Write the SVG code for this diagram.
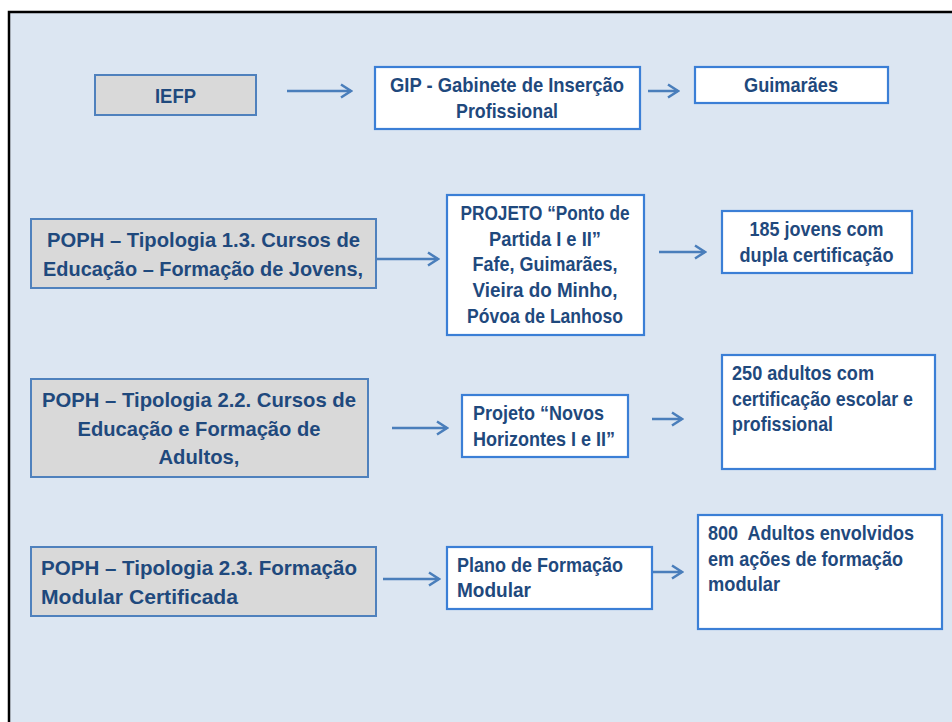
<svg xmlns="http://www.w3.org/2000/svg" width="952" height="722" viewBox="0 0 952 722">
<style>
.bg{fill:#dce6f2;stroke:#000;stroke-width:2.5}
.g{fill:#d9d9d9;stroke:#4f81bd;stroke-width:2}
.w{fill:#fff;stroke:#3b7fd6;stroke-width:2.2}
text{font-family:"Liberation Sans",Arial,sans-serif;font-weight:bold;font-size:21px;fill:#1f497d}
.c{text-anchor:middle}
.ar{fill:none;stroke:#4a7ebb;stroke-width:2.5}
</style>
<defs>
<marker id="ah" viewBox="0 0 14 16" refX="12" refY="8" markerWidth="14" markerHeight="16" markerUnits="userSpaceOnUse" orient="auto">
<path d="M2,1.5 L12,8 L2,14.5" fill="none" stroke="#4a7ebb" stroke-width="2.5"/>
</marker>
</defs>
<rect width="952" height="722" fill="#fff"/>
<rect class="bg" x="9" y="12" width="960" height="730"/>
<g id="connectors">
<line class="ar" x1="287" y1="91" x2="351" y2="91" marker-end="url(#ah)"/>
<line class="ar" x1="648" y1="91" x2="678" y2="91" marker-end="url(#ah)"/>
<line class="ar" x1="376" y1="259" x2="438" y2="259" marker-end="url(#ah)"/>
<line class="ar" x1="659" y1="252" x2="705" y2="252" marker-end="url(#ah)"/>
<line class="ar" x1="392" y1="428" x2="447" y2="428" marker-end="url(#ah)"/>
<line class="ar" x1="652" y1="419" x2="682" y2="419" marker-end="url(#ah)"/>
<line class="ar" x1="383" y1="579" x2="439" y2="579" marker-end="url(#ah)"/>
<line class="ar" x1="652" y1="572" x2="682" y2="572" marker-end="url(#ah)"/>
</g>
<g id="iefp">
<rect class="g" x="95" y="75" width="161" height="40"/>
<text class="c" x="175.5" y="103" textLength="41" lengthAdjust="spacingAndGlyphs">IEFP</text>
</g>
<g id="gip">
<rect class="w" x="375" y="67" width="265" height="62"/>
<text class="c" x="507" y="92" textLength="234" lengthAdjust="spacingAndGlyphs">GIP - Gabinete de Inserção</text>
<text class="c" x="507" y="118" textLength="102" lengthAdjust="spacingAndGlyphs">Profissional</text>
</g>
<g id="guimaraes">
<rect class="w" x="695" y="67" width="193" height="36"/>
<text class="c" x="791" y="92" textLength="94" lengthAdjust="spacingAndGlyphs">Guimarães</text>
</g>
<g id="poph13">
<rect class="g" x="31" y="219" width="345" height="69"/>
<text class="c" x="203.5" y="246.5" textLength="313" lengthAdjust="spacingAndGlyphs">POPH – Tipologia 1.3. Cursos de</text>
<text class="c" x="203" y="276" textLength="320" lengthAdjust="spacingAndGlyphs">Educação – Formação de Jovens,</text>
</g>
<g id="projeto">
<rect class="w" x="447" y="195" width="197" height="140"/>
<text class="c" x="545" y="220" textLength="169" lengthAdjust="spacingAndGlyphs">PROJETO “Ponto de</text>
<text class="c" x="545" y="246" textLength="112" lengthAdjust="spacingAndGlyphs">Partida I e II”</text>
<text class="c" x="545" y="271" textLength="145" lengthAdjust="spacingAndGlyphs">Fafe, Guimarães,</text>
<text class="c" x="545" y="297" textLength="145" lengthAdjust="spacingAndGlyphs">Vieira do Minho,</text>
<text class="c" x="545" y="322.5" textLength="156" lengthAdjust="spacingAndGlyphs">Póvoa de Lanhoso</text>
</g>
<g id="jovens">
<rect class="w" x="722" y="211" width="190" height="62"/>
<text class="c" x="816.5" y="236" textLength="134" lengthAdjust="spacingAndGlyphs">185 jovens com</text>
<text class="c" x="816.5" y="261.5" textLength="154" lengthAdjust="spacingAndGlyphs">dupla certificação</text>
</g>
<g id="poph22">
<rect class="g" x="31" y="379" width="337" height="98"/>
<text class="c" x="199" y="406.5" textLength="314" lengthAdjust="spacingAndGlyphs">POPH – Tipologia 2.2. Cursos de</text>
<text class="c" x="199" y="436" textLength="243" lengthAdjust="spacingAndGlyphs">Educação e Formação de</text>
<text class="c" x="199" y="464" textLength="81" lengthAdjust="spacingAndGlyphs">Adultos,</text>
</g>
<g id="novos">
<rect class="w" x="462" y="395" width="166" height="62"/>
<text x="473" y="420" textLength="131" lengthAdjust="spacingAndGlyphs">Projeto “Novos</text>
<text x="473" y="445.5" textLength="142" lengthAdjust="spacingAndGlyphs">Horizontes I e II”</text>
</g>
<g id="adultos250">
<rect class="w" x="722" y="355" width="213" height="114"/>
<text x="732" y="380" textLength="142" lengthAdjust="spacingAndGlyphs">250 adultos com</text>
<text x="732" y="406" textLength="181" lengthAdjust="spacingAndGlyphs">certificação escolar e</text>
<text x="732" y="430.5" textLength="101" lengthAdjust="spacingAndGlyphs">profissional</text>
</g>
<g id="poph23">
<rect class="g" x="31" y="547" width="345" height="69"/>
<text x="41" y="575" textLength="316" lengthAdjust="spacingAndGlyphs">POPH – Tipologia 2.3. Formação</text>
<text x="41" y="604" textLength="197" lengthAdjust="spacingAndGlyphs">Modular Certificada</text>
</g>
<g id="plano">
<rect class="w" x="447" y="547" width="205" height="62"/>
<text x="457" y="571.5" textLength="166" lengthAdjust="spacingAndGlyphs">Plano de Formação</text>
<text x="457" y="597" textLength="74" lengthAdjust="spacingAndGlyphs">Modular</text>
</g>
<g id="adultos800">
<rect class="w" x="698" y="515" width="244" height="114"/>
<text x="708" y="540" textLength="206" lengthAdjust="spacingAndGlyphs" xml:space="preserve">800  Adultos envolvidos</text>
<text x="708" y="566" textLength="195" lengthAdjust="spacingAndGlyphs">em ações de formação</text>
<text x="708" y="590.5" textLength="72" lengthAdjust="spacingAndGlyphs">modular</text>
</g>
</svg>
